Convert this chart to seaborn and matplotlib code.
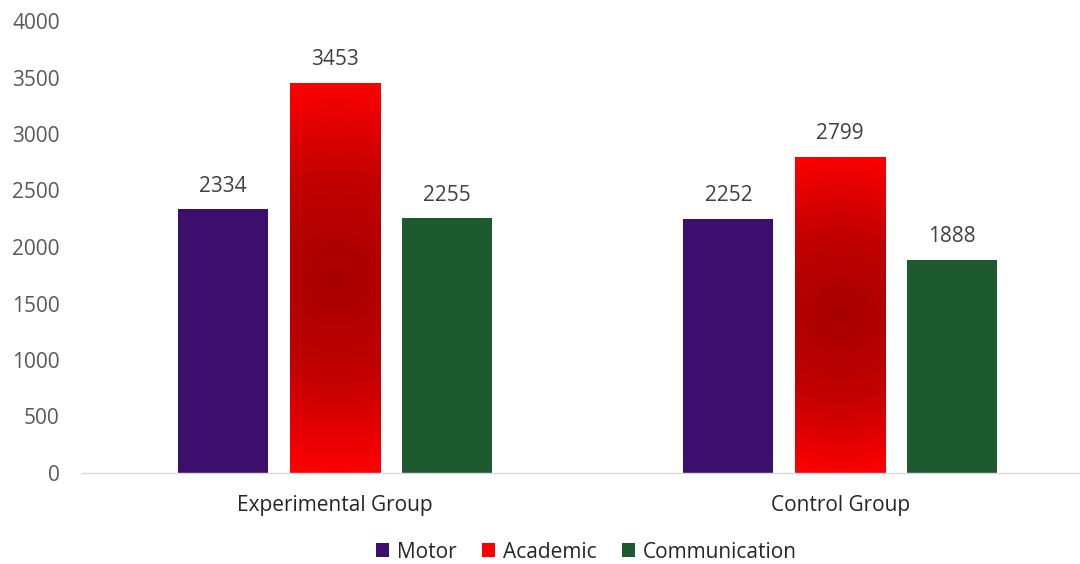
import numpy as np
import pandas as pd
import matplotlib
matplotlib.use("Agg")
import matplotlib.pyplot as plt
from matplotlib.patches import Patch
from matplotlib.colors import LinearSegmentedColormap
import seaborn as sns

groups = ["Experimental Group", "Control Group"]
series = ["Motor", "Academic", "Communication"]
motor = [2334, 2252]
academic = [3453, 2799]
communication = [2255, 1888]
yticks = [0, 500, 1000, 1500, 2000, 2500, 3000, 3500, 4000]

colors = {"Motor": "#3d0f6c", "Academic": "#ff0000", "Communication": "#1d5a30"}

df = pd.DataFrame({
    "group": groups * 3,
    "series": [s for s in series for _ in groups],
    "value": motor + academic + communication,
})

sns.set_theme(style="white")
plt.rcParams["font.family"] = ["Open Sans", "DejaVu Sans"]

fig = plt.figure(figsize=(10.8, 5.64), dpi=100)
ax = fig.add_axes([82 / 1080, 91 / 564, 1011 / 1080, 452 / 564])

sns.barplot(data=df, x="group", y="value", hue="series", order=groups,
            hue_order=series, palette=colors, width=0.664, gap=0.195,
            saturation=1, ax=ax, legend=False, errorbar=None, linewidth=0)

ax.set_xlim(-0.5, 1.5)
ax.set_ylim(0, 4000)
ax.set_yticks(yticks)
ax.set_yticklabels([str(v) for v in yticks])
ax.set_xlabel("")
ax.set_ylabel("")
ax.grid(False)

for s in ["top", "right", "left"]:
    ax.spines[s].set_visible(False)
ax.spines["bottom"].set_color("#d9d9d9")
ax.spines["bottom"].set_linewidth(1.0)

ax.tick_params(axis="y", length=0, pad=16, labelsize=15, labelcolor="#595959")
ax.tick_params(axis="x", which="major", length=0, pad=16, labelsize=15,
               labelcolor="#262626")
ax.set_xticks([-0.5, 0.5, 1.5], minor=True)
ax.tick_params(axis="x", which="minor", length=7, color="#d9d9d9", width=1.0)

# circular radial gradient (in pixel space) for the Academic bars
cmap = LinearSegmentedColormap.from_list("redrad", ["#a60000", "#c20000", "#ff0000"],)
acad_container = ax.containers[1]
for patch in acad_container.patches:
    x0, y0 = patch.get_x(), patch.get_y()
    w, h = patch.get_width(), patch.get_height()
    (px0, py0), (px1, py1) = ax.transData.transform([(x0, y0), (x0 + w, y0 + h)])
    W, H = abs(px1 - px0), abs(py1 - py0)
    ny = 400
    nx = max(int(ny * W / H), 20)
    gy, gx = np.mgrid[-H / 2:H / 2:ny * 1j, -W / 2:W / 2:nx * 1j]
    rad = np.sqrt(gx ** 2 + gy ** 2) / np.sqrt((W / 2) ** 2 + (H / 2) ** 2)
    im = ax.imshow(rad, cmap=cmap, vmin=0, vmax=1,
                   extent=[x0, x0 + w, y0, y0 + h], aspect="auto",
                   interpolation="bilinear", zorder=patch.get_zorder() + 0.1)
    im.set_clip_path(patch)
ax.set_xlim(-0.5, 1.5)
ax.set_ylim(0, 4000)

for cont in ax.containers:
    ax.bar_label(cont, fmt="%d", padding=9, fontsize=15, color="#404040")

handles = [Patch(facecolor=colors[s], edgecolor="none", label=s) for s in series]
fig.legend(handles=handles, loc="center", bbox_to_anchor=(0.543, 1 - 552 / 564),
           ncol=3, frameon=False, fontsize=15, handlelength=0.63,
           handleheight=0.63, handletextpad=0.35, columnspacing=1.25,
           labelcolor="#262626", borderpad=0.2)

fig.savefig("out.png", dpi=100)
